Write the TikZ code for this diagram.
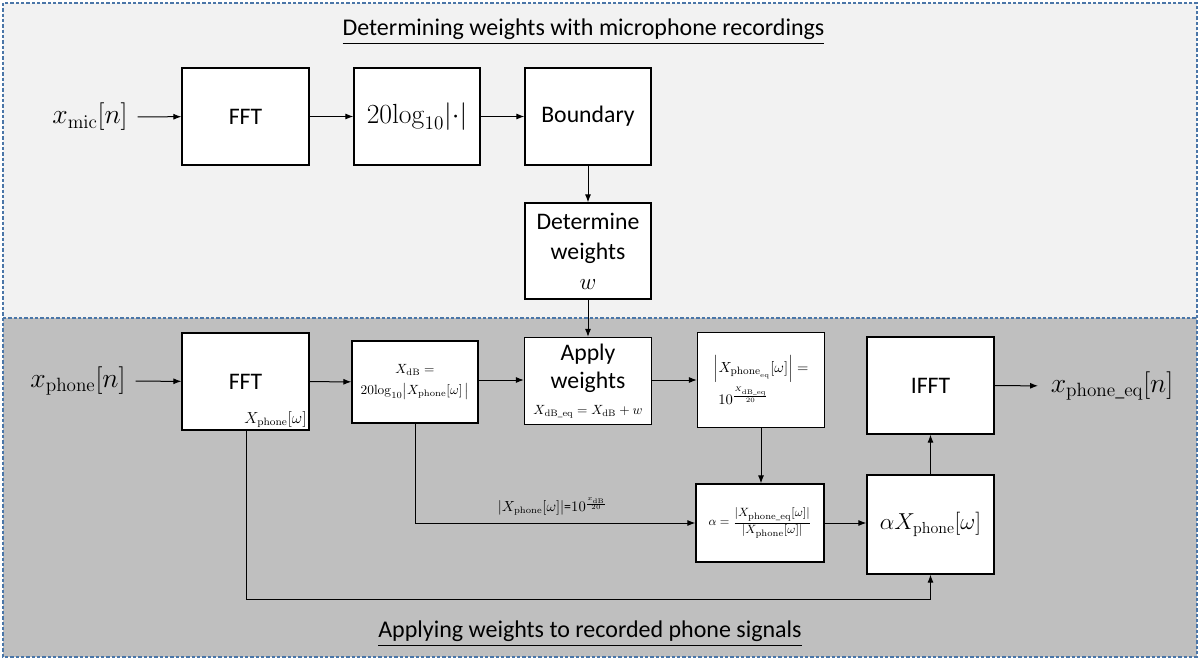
\documentclass[tikz,border=0pt]{standalone}
\usepackage{amsmath}
\usepackage[no-math]{fontspec}
\setmainfont{Carlito}
\usetikzlibrary{arrows.meta}
\definecolor{topbg}{HTML}{F2F2F2}
\definecolor{botbg}{HTML}{BFBFBF}
\definecolor{dashblue}{HTML}{4A76A8}
\begin{document}
\begin{tikzpicture}[x=0.75pt,y=-0.75pt,
  bx/.style 2 args={draw=black, fill=white, line width=0.9pt, align=center, inner sep=1pt,
     minimum width=#1*0.75pt, minimum height=#2*0.75pt},
  big/.style={font=\fontsize{17.8}{22}\selectfont},
  sig/.style={font=\fontsize{19.5}{22}\selectfont},
  arr/.style={-{Latex[length=6pt,width=4.5pt]}, line width=0.75pt},
  ttl/.style={font=\fontsize{18}{21}\selectfont}]
\useasboundingbox (0,0) rectangle (1200,660);
% backgrounds
\fill[topbg] (3,3) rectangle (1197,318);
\fill[botbg] (3,318) rectangle (1197,657);
\draw[dashblue, line width=0.8pt, dash pattern=on 2.5pt off 1.5pt] (3,3) rectangle (1197,657);
\draw[dashblue, line width=0.8pt, dash pattern=on 2.5pt off 1.5pt] (3,318) -- (1197,318);
% titles
\node[ttl] (t1) at (583.5,32) {\underline{Determining weights with microphone recordings}};
\node[ttl] (t2) at (590,634) {\underline{Applying weights to recorded phone signals}};
% top row
\node[sig] (xmic) at (90,117) {$x_{\mathrm{mic}}[n]$};
\node[bx={127}{97}, big] (fft1) at (245.5,116.5) {FFT};
\node[bx={126}{97}, sig] (log) at (417,116.5) {$20\mathrm{log}_{10}|{\cdot}|$};
\node[bx={126}{97}, big] (bnd) at (588,116.5) {Boundary};
\node[bx={126}{96}, font=\fontsize{17.8}{22.5}\selectfont] (det) at (588,251) {Determine\\weights\\$w$};
% bottom row
\node[sig] (xph) at (78,381) {$x_{\mathrm{phone}}[n]$};
\node[bx={127}{97}, big] (fft2) at (245.5,381.5) {FFT};
\node[anchor=south east, inner sep=2pt, font=\fontsize{11.5}{13}\selectfont] (xlab) at (fft2.south east) {$X_{\mathrm{phone}}[\omega]$};
\node[bx={126}{82}, font=\fontsize{10.2}{14}\selectfont] (xdb) at (415,382)
  {$X_{\mathrm{dB}} =$\\[2pt]$20\mathrm{log}_{10}\bigl|X_{\mathrm{phone}}[\omega]\,\bigr|$};
\node[bx={127}{87}, font=\fontsize{17.8}{21.5}\selectfont] (app) at (588,381)
  {Apply\\weights\\[-2pt]\fontsize{10}{12}\selectfont $X_{\mathrm{dB\_eq}} = X_{\mathrm{dB}} + w$};
\node[bx={127}{95}, font=\fontsize{11}{14}\selectfont] (xeq) at (761,380)
  {$\left|X_{\mathrm{phone}_{\mathrm{eq}}}[\omega]\right| =$\\[3pt]$10^{\frac{X_{\mathrm{dB\_eq}}}{20}}$\hspace*{2.4em}};
\node[bx={128}{78}, font=\fontsize{9.5}{12}\selectfont] (alpha) at (760,523)
  {$\alpha = \dfrac{|X_{\mathrm{phone\_eq}}[\omega]|}{|X_{\mathrm{phone}}[\omega]|}$};
\node[bx={127}{97}, big] (ifft) at (930.5,385.5) {IFFT};
\node[bx={127}{99}, font=\fontsize{18.5}{21}\selectfont] (ax) at (930.5,524.5) {$\alpha X_{\mathrm{phone}}[\omega]$};
\node[sig] (xout) at (1112,386) {$x_{\mathrm{phone\_eq}}[n]$};
% connectors
\draw[arr, shorten <=4pt] (xmic) -- (fft1);
\draw[arr] (fft1) -- (log);
\draw[arr] (log) -- (bnd);
\draw[arr] (bnd) -- (det);
\draw[arr] (det) -- (app);
\draw[arr, shorten <=4pt] (xph) -- (fft2);
\draw[arr] (fft2) -- (xdb);
\draw[arr] (xdb.east |- 0,380) -- (app.west |- 0,380);
\draw[arr] (app.east |- 0,380) -- (xeq.west |- 0,380);
\draw[arr] (xeq.south -| 761,0) -- (alpha.north -| 761,0);
\draw[arr] (xdb.south) |- (alpha.west) node[pos=0.745, above=2pt, font=\fontsize{10.5}{12}\selectfont] (lbl)
  {$|X_{\mathrm{phone}}[\omega]|$=$10^{\frac{x_{\mathrm{dB}}}{20}}$};
\draw[arr] (alpha) -- (alpha.east -| ax.west);
\coordinate (c1) at (246,599);
\draw[arr] (fft2.south -| c1) -- (c1) -| (ax.south);
\draw[arr] (ax) -- (ifft);
\draw[arr, shorten >=6pt] (ifft) -- (xout);
\end{tikzpicture}
\end{document}
